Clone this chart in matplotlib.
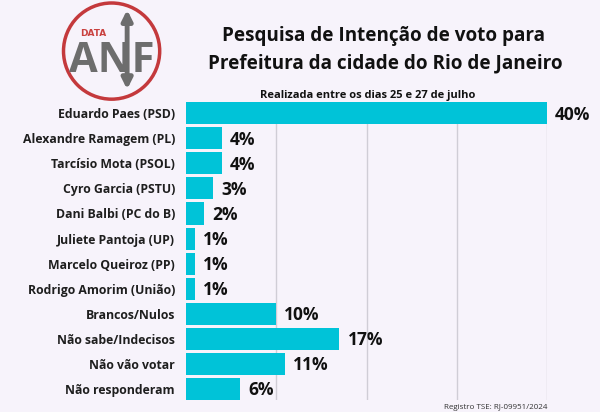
import matplotlib.pyplot as plt
from matplotlib.patches import Circle, FancyArrowPatch

# dados da pesquisa
nomes = ['Eduardo Paes (PSD)', 'Alexandre Ramagem (PL)', 'Tarcísio Mota (PSOL)',
         'Cyro Garcia (PSTU)', 'Dani Balbi (PC do B)', 'Juliete Pantoja (UP)',
         'Marcelo Queiroz (PP)', 'Rodrigo Amorim (União)', 'Brancos/Nulos',
         'Não sabe/Indecisos', 'Não vão votar', 'Não responderam']
valores = [40, 4, 4, 3, 2, 1, 1, 1, 10, 17, 11, 6]
grade = [10, 20, 30, 40]

fundo = '#f7f3fb'
ciano = '#00c3d8'

fig = plt.figure(figsize=(6, 4.12), dpi=100)
fig.patch.set_facecolor(fundo)

ax = fig.add_axes([0.31, 0.029, 0.6017, 0.7233])
ax.set_facecolor(fundo)
pos = list(range(len(nomes)))
ax.barh(pos, valores, height=0.88, color=ciano, zorder=2)
for x in grade:
    ax.axvline(x, color='#d0cdd6', lw=1, zorder=1)
ax.set_xlim(0, 40)
ax.set_ylim(11.45, -0.45)
ax.set_yticks(pos)
ax.set_yticklabels(nomes, fontfamily='Open Sans', fontweight='bold', fontsize=8.8, color='#1e1e1e')
ax.tick_params(axis='y', length=0, pad=8)
ax.set_xticks([])
for s in ax.spines.values():
    s.set_visible(False)

for p, v in zip(pos, valores):
    ax.text(v + 0.9, p + 0.05, f'{v}%', va='center', ha='left', fontfamily='Open Sans',
            fontweight='bold', fontsize=12.5, color='#111111', clip_on=False)

# titulo
fig.text(0.64, 0.912, 'Pesquisa de Intenção de voto para', ha='center', va='center',
         fontfamily='Open Sans', fontweight='bold', fontsize=13.6, color='#111111')
fig.text(0.642, 0.846, 'Prefeitura da cidade do Rio de Janeiro', ha='center', va='center',
         fontfamily='Open Sans', fontweight='bold', fontsize=13.6, color='#111111')
fig.text(0.613, 0.769, 'Realizada entre os dias 25 e 27 de julho', ha='center', va='center',
         fontfamily='Open Sans', fontweight='bold', fontsize=8, color='#111111')
fig.text(0.913, 0.01, 'Registro TSE: RJ-09951/2024', ha='right', va='center',
         fontfamily='Open Sans', fontsize=5.8, color='#333333')

# logo
lg = fig.add_axes([0.1, 0.752, 0.172, 0.248])
lg.set_xlim(0, 103)
lg.set_ylim(0, 102)
lg.axis('off')
lg.add_patch(Circle((51.5, 51), 48, fill=False, ec='#c4393c', lw=2.5))
lg.add_patch(FancyArrowPatch((67, 10), (67, 95), arrowstyle='<|-|>', mutation_scale=15,
                             color='#6d6d6d', lw=3.5))
lg.text(20, 69, 'DATA', color='#c9413f', fontsize=6.5, fontweight='bold',
        fontfamily='DejaVu Sans', va='center')
lg.text(52, 41, 'ANF', color='#6d6d6d', fontsize=30, fontweight='bold',
        fontfamily='Open Sans', ha='center', va='center')

fig.savefig('out.png', dpi=100, facecolor=fundo)
